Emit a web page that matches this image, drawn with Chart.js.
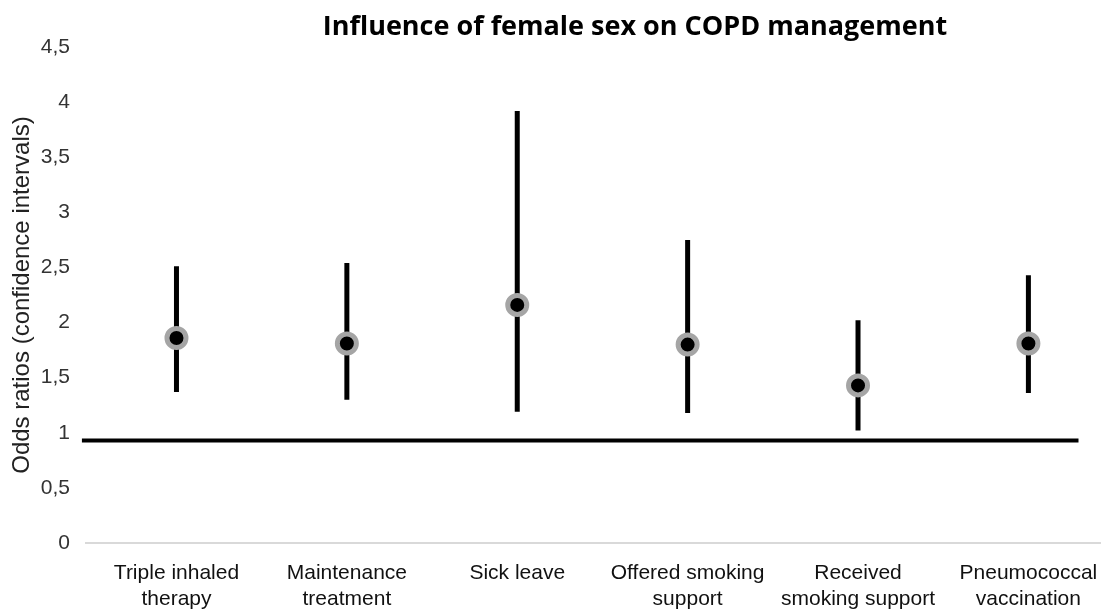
<!DOCTYPE html>
<html>
<head>
<meta charset="utf-8">
<script src="https://cdn.jsdelivr.net/npm/chart.js@4"></script>
<style>
    body { margin: 0; overflow: hidden; background: #fff; }
    #wrap { position: relative; width: 1116px; height: 612px; }
    #title {
        position: absolute; top: 10px; left: 635px; transform: translateX(-50%);
        font-family: 'Open Sans', sans-serif; font-weight: bold; font-size: 27px;
        line-height: 30px; white-space: nowrap; color: #000;
    }
</style>
</head>
<body>
<div id="wrap">
    <div id="title">Influence of female sex on COPD management</div>
    <canvas id="orChart"></canvas>
</div>
<script>
const categories = [
    ['Triple inhaled', 'therapy'],
    ['Maintenance', 'treatment'],
    ['Sick leave'],
    ['Offered smoking', 'support'],
    ['Received', 'smoking support'],
    ['Pneumococcal', 'vaccination']
];
const oddsRatios = [1.86, 1.81, 2.16, 1.80, 1.43, 1.81];
const ciLow = [1.37, 1.30, 1.19, 1.18, 1.02, 1.36];
const ciHigh = [2.51, 2.54, 3.92, 2.75, 2.02, 2.43];
const yTicks = [0, 0.5, 1, 1.5, 2, 2.5, 3, 3.5, 4, 4.5];
const refLineY = 0.93;
const refLineX = [-0.555, 5.294];

// 1. Build datasets
const ciSets = categories.map((c, i) => ({
    type: 'line',
    data: [{ x: i, y: ciLow[i] }, { x: i, y: ciHigh[i] }],
    borderColor: '#000',
    borderWidth: 5,
    borderCapStyle: 'butt',
    pointRadius: 0,
    order: 2
}));

const refSet = {
    type: 'line',
    data: refLineX.map(x => ({ x: x, y: refLineY })),
    borderColor: '#000',
    borderWidth: 4,
    pointRadius: 0,
    clip: false,
    order: 3
};

const pointSet = {
    type: 'scatter',
    data: oddsRatios.map((v, i) => ({ x: i, y: v })),
    backgroundColor: '#000',
    borderColor: '#a5a5a5',
    borderWidth: 5,
    pointRadius: 9.5,
    order: 1
};

// 2. Render chart
const ctx = document.getElementById('orChart').getContext('2d');
new Chart(ctx, {
    type: 'scatter',
    data: { datasets: [...ciSets, refSet, pointSet] },
    options: {
        responsive: true,
        maintainAspectRatio: false,
        animation: false,
        layout: { padding: { top: 47, bottom: 0, left: 0, right: 0 } },
        plugins: {
            legend: { display: false },
            tooltip: { enabled: false }
        },
        scales: {
            x: {
                type: 'linear',
                min: -0.531,
                max: 5.429,
                grid: { display: false, drawTicks: false },
                border: { display: true, color: '#d9d9d9', width: 2 },
                afterBuildTicks: scale => { scale.ticks = categories.map((c, i) => ({ value: i })); },
                afterFit: scale => {
                    scale.height = 69;
                    scale.paddingLeft = 0;
                    scale.paddingRight = 0;
                },
                ticks: {
                    padding: 18,
                    maxRotation: 0,
                    autoSkip: false,
                    color: '#111',
                    font: { family: 'Liberation Sans', size: 21 },
                    callback: v => categories[v]
                }
            },
            y: {
                min: 0,
                max: 4.5,
                grid: { display: false, drawTicks: false },
                border: { display: false },
                afterBuildTicks: scale => { scale.ticks = yTicks.map(v => ({ value: v })); },
                afterFit: scale => {
                    scale.width = 86;
                    scale.paddingTop = 0;
                    scale.paddingBottom = 0;
                },
                ticks: {
                    padding: 16,
                    color: '#333',
                    font: { family: 'Liberation Sans', size: 21 },
                    callback: v => String(v).replace('.', ',')
                },
                title: {
                    display: true,
                    text: 'Odds ratios (confidence intervals)',
                    color: '#222',
                    font: { family: 'Liberation Sans', size: 24 },
                    padding: { top: 8, bottom: 4 }
                }
            }
        }
    }
});
</script>
</body>
</html>
